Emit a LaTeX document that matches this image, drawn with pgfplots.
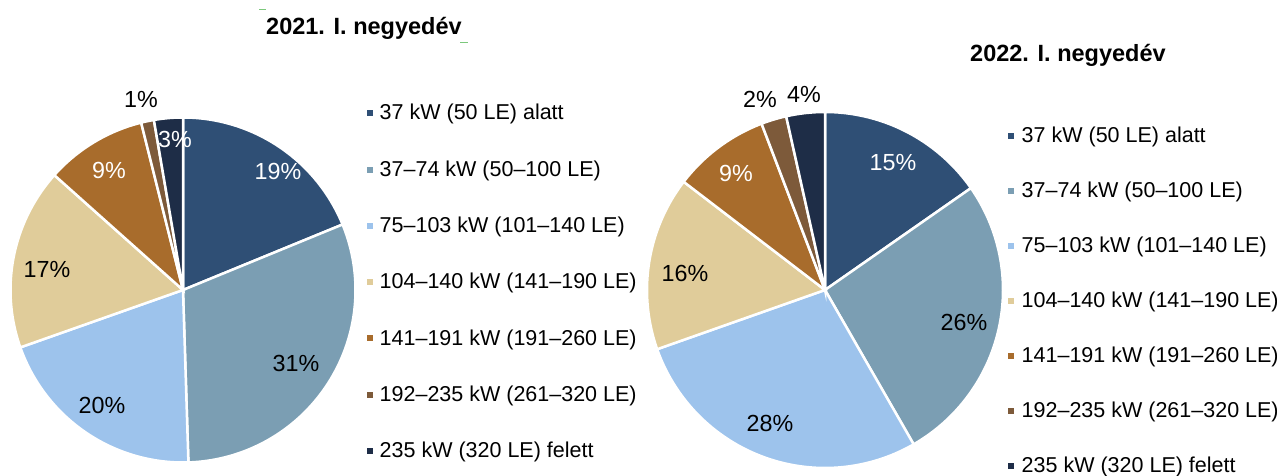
\documentclass[border=0pt]{standalone}
\usepackage{pgfplots}
\pgfplotsset{compat=1.18}
\usepackage{fontspec}
\setmainfont{Liberation Sans}
\definecolor{cA}{HTML}{2F4F75}
\definecolor{cB}{HTML}{7B9EB3}
\definecolor{cC}{HTML}{9DC3EC}
\definecolor{cD}{HTML}{E0CC9A}
\definecolor{cE}{HTML}{A86C2C}
\definecolor{cF}{HTML}{7D5A3A}
\definecolor{cG}{HTML}{1E2D47}
\definecolor{gdash}{HTML}{7CC87C}
% slice: colour, cumulative share before (%), share (%), radius
\newcommand\slice[4]{%
  \addplot[draw=white, line width=2.5pt, fill=#1, domain={90-3.6*(#2+#3)}:{90-3.6*(#2)},
    samples=90, variable=\a] ({#4*cos(\a)},{#4*sin(\a)}) -- (axis cs:0,0) -- cycle;}
\newcommand\legfont{\fontsize{21.5}{25}\selectfont}
\newcommand\labfont{\fontsize{23.3}{27}\selectfont}
\begin{document}
\begin{tikzpicture}
\path[use as bounding box] (0,0) rectangle (1277pt,476pt);
% ---------- 2021 ----------
\begin{axis}[at={(183pt,186pt)}, anchor=center, width=345pt, height=345pt,
  scale only axis, xmin=-172.5, xmax=172.5, ymin=-172.5, ymax=172.5,
  hide axis, clip=false]
  % shares: 18.8, 30.7, 20.1, 17.0, 9.5, 1.2, 2.7
  \slice{cA}{0}{18.8}{172.5}
  \slice{cB}{18.8}{30.7}{172.5}
  \slice{cC}{49.5}{20.1}{172.5}
  \slice{cD}{69.6}{17.0}{172.5}
  \slice{cE}{86.6}{9.5}{172.5}
  \slice{cF}{96.1}{1.2}{172.5}
  \slice{cG}{97.3}{2.7}{172.5}
  \node[font=\labfont, text=white] at (axis cs:95,119) {19\%};
  \node[font=\labfont] at (axis cs:113,-73) {31\%};
  \node[font=\labfont] at (axis cs:-81,-115) {20\%};
  \node[font=\labfont] at (axis cs:-136,21) {17\%};
  \node[font=\labfont, text=white] at (axis cs:-74,120) {9\%};
  \node[font=\labfont, text=white] at (axis cs:-8,151) {3\%};
  \node[font=\labfont] at (axis cs:-42,191) {1\%};
\end{axis}
% ---------- 2022 ----------
\begin{axis}[at={(825pt,186pt)}, anchor=center, width=356pt, height=356pt,
  scale only axis, xmin=-178, xmax=178, ymin=-178, ymax=178,
  hide axis, clip=false]
  % shares: 15.3, 26.4, 27.9, 15.8, 8.8, 2.3, 3.5
  \slice{cA}{0}{15.3}{178}
  \slice{cB}{15.3}{26.4}{178}
  \slice{cC}{41.7}{27.9}{178}
  \slice{cD}{69.6}{15.8}{178}
  \slice{cE}{85.4}{8.8}{178}
  \slice{cF}{94.2}{2.3}{178}
  \slice{cG}{96.5}{3.5}{178}
  \node[font=\labfont, text=white] at (axis cs:68,127) {15\%};
  \node[font=\labfont] at (axis cs:139,-32) {26\%};
  \node[font=\labfont] at (axis cs:-55,-133) {28\%};
  \node[font=\labfont] at (axis cs:-140,17) {16\%};
  \node[font=\labfont, text=white] at (axis cs:-89,117) {9\%};
  \node[font=\labfont] at (axis cs:-65,191) {2\%};
  \node[font=\labfont] at (axis cs:-21,196) {4\%};
\end{axis}
% ---------- titles ----------
\node[anchor=base west, inner sep=0, font=\bfseries\fontsize{23.5}{28}\selectfont] at (266pt,441pt) {2021. I. negyedév};
\node[anchor=base west, inner sep=0, font=\bfseries\fontsize{23.5}{28}\selectfont] at (970pt,414pt) {2022. I. negyedév};
\draw[gdash, line width=1pt] (259pt,466pt) -- (266pt,466pt);
\draw[gdash, line width=1pt] (460pt,433pt) -- (468pt,433pt);
% ---------- legends ----------
\foreach \c/\txt [count=\i from 0] in {cA/{37 kW (50 LE) alatt}, cB/{37--74 kW (50--100 LE)}, cC/{75--103 kW (101--140 LE)}, cD/{104--140 kW (141--190 LE)}, cE/{141--191 kW (191--260 LE)}, cF/{192--235 kW (261--320 LE)}, cG/{235 kW (320 LE) felett}} {
  \pgfmathsetmacro\yb{476-(120+56.3*\i)}
  \fill[\c] (367pt,{\yb pt+3.7pt}) rectangle (373pt,{\yb pt+9.7pt});
  \node[anchor=base west, inner sep=0, font=\legfont] at (379.5pt,{\yb pt}) {\txt};
  \pgfmathsetmacro\ybb{476-(143+55*\i)}
  \fill[\c] (1007.5pt,{\ybb pt+3.7pt}) rectangle (1013.5pt,{\ybb pt+9.7pt});
  \node[anchor=base west, inner sep=0, font=\legfont] at (1021.5pt,{\ybb pt}) {\txt};
}
\end{tikzpicture}
\end{document}
